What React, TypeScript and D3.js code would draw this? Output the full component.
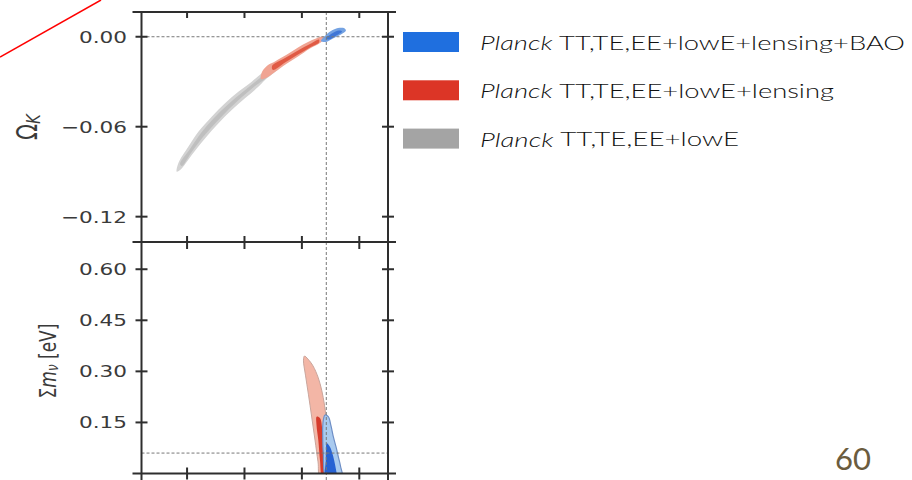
import React from 'react';
import * as d3 from 'd3';

type Pt = [number, number];

// axis ticks (H0 on x, labels are cut off in the picture)
const xTicks = [48, 56, 64, 72];
const omegaTicks = [0, -0.06, -0.12];
const mnuTicks = [0.15, 0.3, 0.45, 0.6];
const H0_REF = 67.4;
const OMK_REF = 0;
const MNU_REF = 0.06;

// Omega_K vs H0 contours, [H0, Omega_K]
const grayOuterK: Pt[] = [
    [46.56, -0.09], [46.78, -0.0844], [48.17, -0.0734], [49.57, -0.0634], [51.43, -0.0534],
    [53.29, -0.0444], [55.14, -0.0367], [57.01, -0.03], [58.4, -0.0244], [59.84, -0.0195],
    [61.09, -0.0162], [60.95, -0.0202], [58.86, -0.0289], [57.93, -0.0334], [56.07, -0.0411],
    [54.22, -0.0489], [52.35, -0.0578], [50.5, -0.0678], [48.65, -0.0789], [47.25, -0.0878],
];
const grayInnerK: Pt[] = [
    [47.02, -0.0849], [48.41, -0.0749], [49.94, -0.0642], [51.75, -0.0542], [53.7, -0.0452],
    [55.59, -0.0376], [57.47, -0.0302], [59.28, -0.0242], [59.28, -0.0262], [57.47, -0.0329],
    [55.65, -0.0402], [53.84, -0.0482], [52.03, -0.0572], [50.22, -0.0669], [48.55, -0.0776],
    [47.29, -0.0862],
];
const redOuterK: Pt[] = [
    [58.44, -0.0235], [59.28, -0.0189], [60.25, -0.0165], [61.92, -0.0119], [63.46, -0.0072],
    [64.85, -0.0035], [65.97, -0.0012], [66.8, 0.0001], [67.22, -0.0012], [66.52, -0.0042],
    [65.13, -0.0079], [63.46, -0.0132], [61.92, -0.0179], [60.25, -0.0235], [59.0, -0.0275],
    [58.3, -0.0282],
];
const redInnerK: Pt[] = [
    [59.84, -0.0195], [61.65, -0.0142], [63.46, -0.0092], [65.13, -0.0049], [66.38, -0.0019],
    [66.38, -0.0039], [65.13, -0.0072], [63.46, -0.0119], [61.65, -0.0172], [59.98, -0.0222],
];
const blueOuterK: Pt[] = [
    [66.66, -0.0029], [67.22, 0.0005], [68.05, 0.0038], [69.03, 0.0058], [69.86, 0.0058],
    [70.14, 0.0041], [69.44, 0.0015], [68.33, -0.0012], [67.35, -0.0035],
];
const blueInnerK: Pt[] = [
    [67.35, -0.0012], [68.19, 0.0021], [69.17, 0.0041], [69.59, 0.0035], [68.89, 0.0011], [67.78, -0.0019],
];

// sum m_nu vs H0 contours, [H0, eV]
const redOuterM: Pt[] = [
    [64.36, 0.345], [64.85, 0.336], [65.55, 0.316], [66.25, 0.283], [66.76, 0.245], [67.15, 0.201],
    [67.43, 0.157], [67.92, 0.098], [68.47, 0.04], [68.75, -0.013], [66.59, -0.013], [66.25, 0.034],
    [65.83, 0.098], [65.37, 0.166], [64.92, 0.231], [64.5, 0.289], [64.22, 0.333],
];
const redInnerM: Pt[] = [
    [66.06, 0.167], [66.52, 0.163], [66.87, 0.128], [67.22, 0.069], [67.5, -0.013],
    [66.87, -0.013], [66.52, 0.04], [66.29, 0.098], [66.04, 0.142],
];
const blueOuterM: Pt[] = [
    [67.22, 0.172], [67.68, 0.167], [68.06, 0.14], [68.38, 0.108], [68.76, 0.078], [69.08, 0.049],
    [69.38, 0.022], [69.59, -0.013], [67.43, -0.013], [66.98, 0.06], [66.9, 0.113], [66.9, 0.137],
    [67.01, 0.16],
];
const blueInnerM: Pt[] = [
    [67.46, 0.089], [67.92, 0.078], [68.38, 0.049], [68.85, 0.001], [68.97, -0.013],
    [67.36, -0.013], [67.33, 0.04], [67.36, 0.069],
];

const legendLabels = [
    'TT,TE,EE+lowE+lensing+BAO',
    'TT,TE,EE+lowE+lensing',
    'TT,TE,EE+lowE',
];
const legendColors = ['#1f6fdf', '#dc3526', '#a4a4a4'];
const legendWidths = [425, 354, 259];

const W = 912;
const H = 480;
const LEFT = 141.5;
const RIGHT = 388;
const TOP = 12;
const MID = 242;
const BOT = 473.5;
const SX = 1.35; // the picture is stretched sideways
const AXIS = '#2e2e2e';
const TXT = '#3a3a3a';

const App: React.FC = () => {
    const x = d3.scaleLinear().domain([41.65, 76.0]).range([LEFT, RIGHT]);
    const yK = d3.scaleLinear().domain([-0.1369, 0.0165]).range([MID, TOP]);
    const yM = d3.scaleLinear().domain([0, 0.68]).range([BOT, MID]);

    const lineK = d3.line<Pt>().x(d => x(d[0])).y(d => yK(d[1])).curve(d3.curveCatmullRomClosed.alpha(0.5));
    const lineM = d3.line<Pt>().x(d => x(d[0])).y(d => yM(d[1])).curve(d3.curveCatmullRomClosed.alpha(0.5));

    const tickLabel = (y: number, text: string) => (
        <text
            key={text}
            transform={`translate(127,${y}) scale(${SX},1)`}
            textAnchor="end"
            dominantBaseline="central"
            fontFamily="DejaVu Sans"
            fontSize={16}
            fill={TXT}
        >
            {text}
        </text>
    );
    const fmt = (v: number) => d3.format('.2f')(v).replace('-', '\u2212');

    return (
        <svg width={W} height={H} style={{ position: 'absolute', left: 0, top: 0, background: '#fff' }}>
            <defs>
                <clipPath id="clipK"><rect x={LEFT} y={TOP} width={RIGHT - LEFT} height={MID - TOP} /></clipPath>
                <clipPath id="clipM"><rect x={LEFT} y={MID} width={RIGHT - LEFT} height={BOT - MID} /></clipPath>
            </defs>

            {/* annotation line from the slide */}
            <line x1={0} y1={57} x2={101} y2={0} stroke="#f00" strokeWidth={1.5} />

            {/* top panel contours */}
            <g clipPath="url(#clipK)">
                <path d={lineK(grayOuterK) || ''} fill="#d3d3d3" />
                <path d={lineK(grayInnerK) || ''} fill="#bfbfbf" />
                <path d={lineK(redOuterK) || ''} fill="#f0a493" />
                <path d={lineK(redInnerK) || ''} fill="#e05a44" />
                <path d={lineK(blueOuterK) || ''} fill="#74a2e2" />
                <path d={lineK(blueInnerK) || ''} fill="#3f76d6" />
            </g>

            {/* bottom panel contours */}
            <g clipPath="url(#clipM)">
                <path d={lineM(redOuterM) || ''} fill="#f3b6a6" stroke="#c9a59c" strokeWidth={1} />
                <path d={lineM(redInnerM) || ''} fill="#d63b2c" />
                <path d={lineM(blueOuterM) || ''} fill="#a9caef" stroke="#6f8fc6" strokeWidth={1.2} />
                <path d={lineM(blueInnerM) || ''} fill="#2762d3" />
            </g>

            {/* reference lines */}
            <line x1={LEFT} x2={RIGHT} y1={yK(OMK_REF)} y2={yK(OMK_REF)} stroke="#777" strokeWidth={1} strokeDasharray="3,2" />
            <line x1={LEFT} x2={RIGHT} y1={yM(MNU_REF)} y2={yM(MNU_REF)} stroke="#777" strokeWidth={1} strokeDasharray="3,2" />
            <line x1={x(H0_REF)} x2={x(H0_REF)} y1={TOP} y2={H} stroke="#777" strokeWidth={1} strokeDasharray="3,2" />

            {/* frame */}
            <g stroke={AXIS} strokeWidth={2}>
                <line x1={LEFT} x2={LEFT} y1={TOP} y2={H} />
                <line x1={RIGHT} x2={RIGHT} y1={TOP} y2={H} />
                {[TOP, MID, BOT].map(y => (
                    <line key={y} x1={LEFT - 9} x2={RIGHT + 8} y1={y} y2={y} />
                ))}
                {xTicks.map(t => (
                    <g key={t}>
                        <line x1={x(t)} x2={x(t)} y1={TOP} y2={TOP + 6} />
                        <line x1={x(t)} x2={x(t)} y1={MID - 6} y2={MID + 7} />
                        <line x1={x(t)} x2={x(t)} y1={BOT - 6} y2={BOT + 6} />
                    </g>
                ))}
                {omegaTicks.map(t => (
                    <g key={t}>
                        <line x1={LEFT - 6} x2={LEFT + 6} y1={yK(t)} y2={yK(t)} />
                        <line x1={RIGHT - 6} x2={RIGHT + 6} y1={yK(t)} y2={yK(t)} />
                    </g>
                ))}
                {mnuTicks.map(t => (
                    <g key={t}>
                        <line x1={LEFT - 6} x2={LEFT + 6} y1={yM(t)} y2={yM(t)} />
                        <line x1={RIGHT - 6} x2={RIGHT + 6} y1={yM(t)} y2={yM(t)} />
                    </g>
                ))}
            </g>

            {/* tick labels */}
            {omegaTicks.map(t => tickLabel(yK(t), fmt(t)))}
            {mnuTicks.map(t => tickLabel(yM(t), fmt(t)))}

            {/* axis titles */}
            <text
                transform={`translate(27,${(TOP + MID) / 2}) scale(${SX},1) rotate(-90)`}
                textAnchor="middle"
                dominantBaseline="central"
                fontFamily="DejaVu Sans"
                fontSize={21}
                fill={TXT}
            >
                Ω<tspan fontStyle="italic" fontSize={15} dy={4}>K</tspan>
            </text>
            <text
                transform={`translate(48,361) scale(${SX},1) rotate(-90)`}
                textAnchor="middle"
                dominantBaseline="central"
                fontFamily="DejaVu Sans"
                fontSize={17}
                fill={TXT}
            >
                Σ<tspan fontStyle="italic">m</tspan>
                <tspan fontStyle="italic" fontSize={12} dy={3}>ν</tspan>
                <tspan dy={-3}> [eV]</tspan>
            </text>

            {/* legend */}
            {legendLabels.map((lab, i) => {
                const cy = 42 + i * 48.3;
                return (
                    <g key={lab}>
                        <rect x={403} y={cy - 10} width={56} height={20} fill={legendColors[i]} />
                        <text
                            x={480}
                            y={cy}
                            dominantBaseline="central"
                            fontFamily="Lato"
                            fontWeight={300}
                            fontSize={19}
                            fill="#111"
                            textLength={legendWidths[i]}
                            lengthAdjust="spacingAndGlyphs"
                        >
                            <tspan fontStyle="italic">Planck</tspan> {lab}
                        </text>
                    </g>
                );
            })}

            {/* slide number */}
            <text x={835} y={470} fontFamily="Lato" fontSize={31} fill="#6b5c3e">60</text>
        </svg>
    );
};

export default App;
